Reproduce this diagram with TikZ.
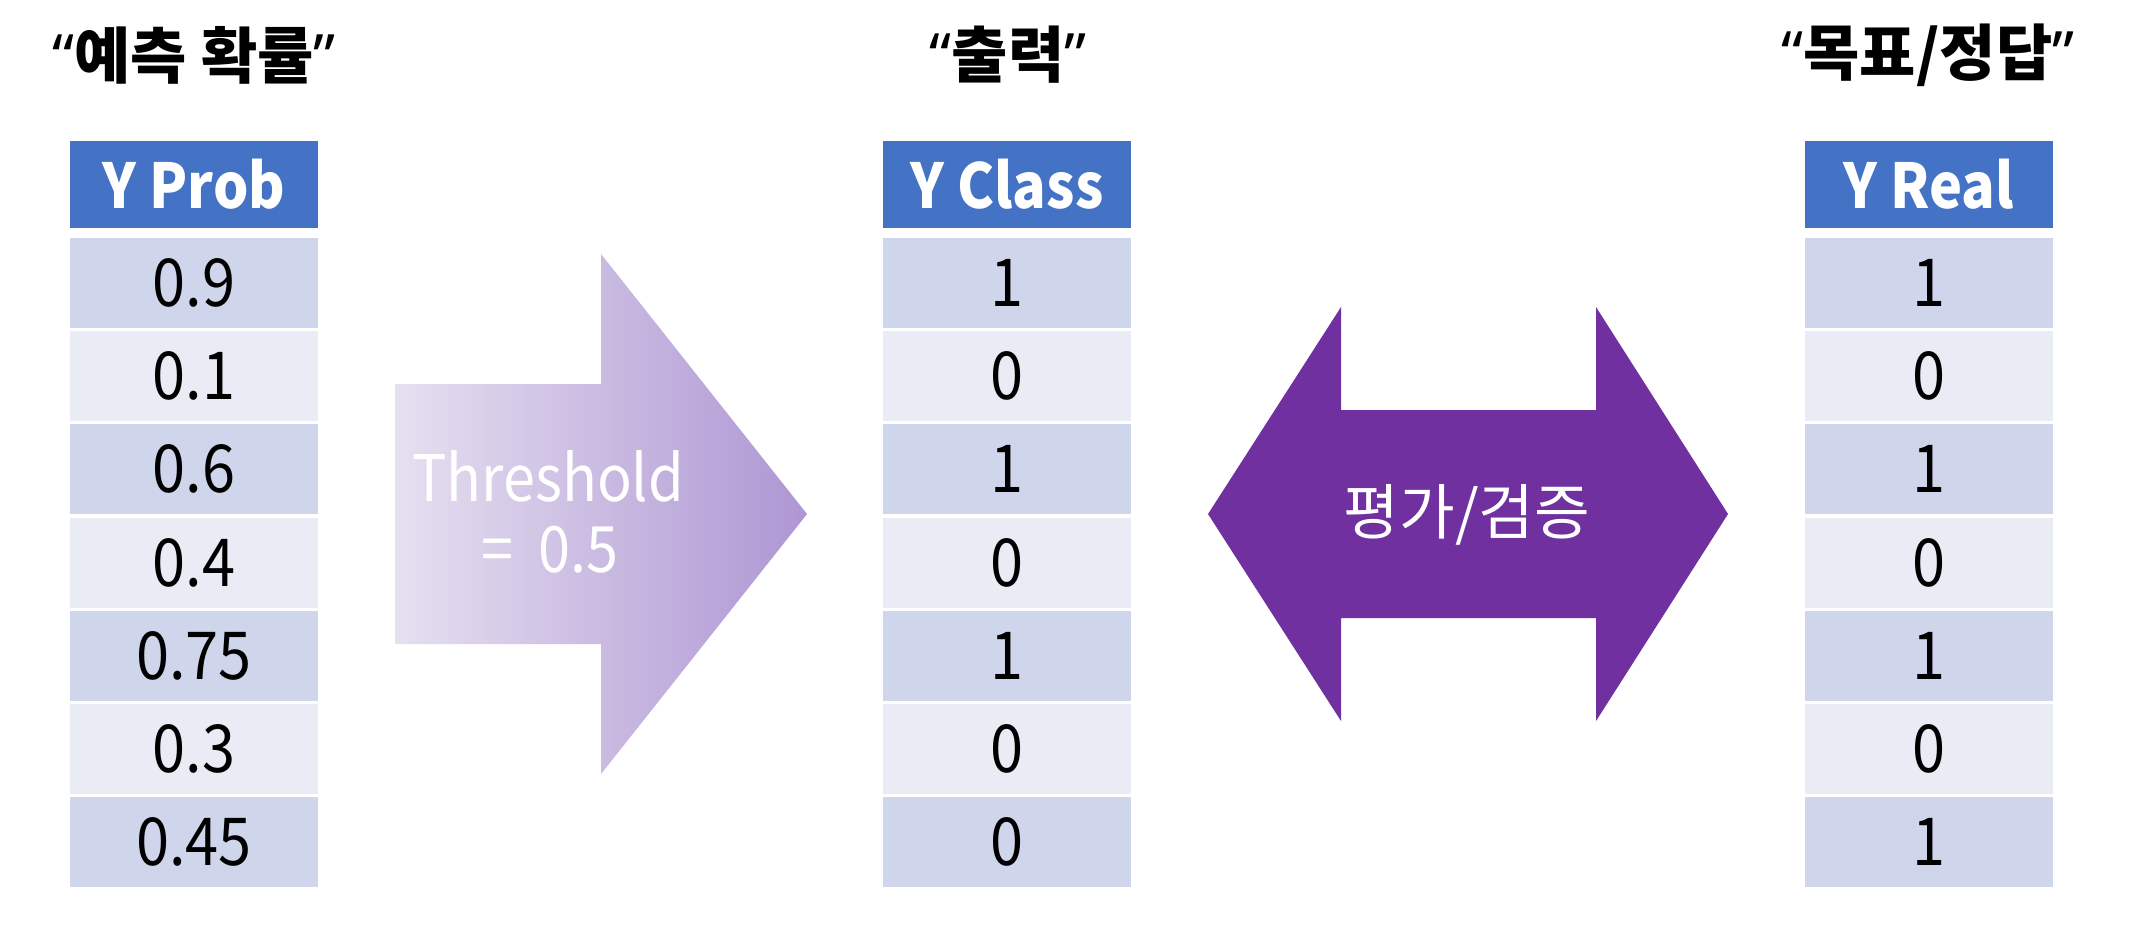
\documentclass[tikz,border=0pt]{standalone}
\usepackage{fontspec}
\usepackage{graphicx}
\setmainfont{Noto Sans CJK KR}
\newfontfamily\qfont{Noto Sans}
\definecolor{hdrblue}{HTML}{4472C4}
\definecolor{rowdark}{HTML}{CFD5EA}
\definecolor{rowlight}{HTML}{E9EBF5}
\definecolor{evalpurple}{HTML}{7030A0}
\definecolor{gradleft}{HTML}{E6E0F0}
\definecolor{gradright}{HTML}{AE96D3}
\newcommand\narrowtxt[1]{\scalebox{0.9}[1]{#1}}
\tikzset{
  cell/.style={rectangle, inner sep=0pt, minimum width=2.48cm, minimum height=0.9cm,
    font=\fontsize{18.8pt}{22pt}\selectfont, text=black},
  hdr/.style={cell, fill=hdrblue, minimum height=0.87cm, text=white,
    font=\fontsize{17.6pt}{21pt}\selectfont\bfseries},
  title/.style={font=\fontsize{17.4pt}{21pt}\selectfont\bfseries, inner sep=0pt},
  arrowtext/.style={text=white, inner sep=0pt, font=\fontsize{18.2pt}{22pt}\selectfont},
}
\begin{document}
\begin{tikzpicture}[x=0.01cm, y=-0.01cm]
\useasboundingbox (0,0) rectangle (2131,950);
\fill[white] (0,0) rectangle (2131,950);

% titles
\node[title] (t1) at (194,55) {{\qfont “}예측 확률{\qfont ”}};
\node[title] (t2) at (1008,55) {{\qfont “}출력{\qfont ”}};
\node[title] (t3) at (1928,55) {{\qfont “}목표/정답{\qfont ”}};

% headers
\node[hdr] (p0) at (194,184.5) {\narrowtxt{Y Prob}};
\node[hdr] (c0) at (1007,184.5) {\narrowtxt{Y Class}};
\node[hdr] (r0) at (1929,184.5) {\narrowtxt{Y Real}};

% rows
\foreach \v [count=\i] in {0.9,0.1,0.6,0.4,0.75,0.3,0.45} {
  \ifodd\i \def\st{rowdark}\else\def\st{rowlight}\fi
  \node[cell, fill=\st] (p\i) at (194,{283+93.2*(\i-1)}) {\narrowtxt{\v}};
}
\foreach \v [count=\i] in {1,0,1,0,1,0,0} {
  \ifodd\i \def\st{rowdark}\else\def\st{rowlight}\fi
  \node[cell, fill=\st] (c\i) at (1007,{283+93.2*(\i-1)}) {\narrowtxt{\v}};
}
\foreach \v [count=\i] in {1,0,1,0,1,0,1} {
  \ifodd\i \def\st{rowdark}\else\def\st{rowlight}\fi
  \node[cell, fill=\st] (r\i) at (1929,{283+93.2*(\i-1)}) {\narrowtxt{\v}};
}

% threshold arrow
\shade[left color=gradleft, right color=gradright]
  (395,384) -- (601,384) -- (601,254) -- (807,514) -- (601,774) -- (601,644) -- (395,644) -- cycle;
\node[arrowtext, anchor=base] (thr1) at (548,501) {\narrowtxt{Threshold}};
\node[arrowtext, anchor=base] (thr2) at (550,572) {\narrowtxt{=\ \ 0.5}};

% evaluation double arrow
\fill[evalpurple]
  (1208,514) -- (1341,307) -- (1341,410) -- (1596,410) -- (1596,307) -- (1728,514)
  -- (1596,721) -- (1596,618) -- (1341,618) -- (1341,721) -- cycle;
\node[text=white, inner sep=0pt, font=\fontsize{17.2pt}{21pt}\selectfont] (eval) at (1467,515) {평가/검증};
\end{tikzpicture}
\end{document}
